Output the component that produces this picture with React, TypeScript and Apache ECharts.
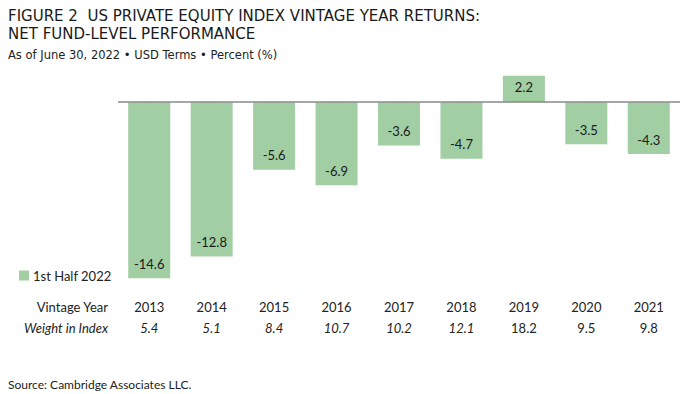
import React, { useEffect, useRef } from "react";
import * as echarts from "echarts";

const years = ["2013", "2014", "2015", "2016", "2017", "2018", "2019", "2020", "2021"];
const returns = [-14.6, -12.8, -5.6, -6.9, -3.6, -4.7, 2.2, -3.5, -4.3];
const weights = ["5.4", "5.1", "8.4", "10.7", "10.2", "12.1", "18.2", "9.5", "9.8"];
const weightItalic = [true, true, true, true, true, true, false, false, false];
const seriesName = "1st Half 2022";

const FONT = "Lato, 'Open Sans', sans-serif";
const TFONT = "'DejaVu Sans', sans-serif";
const BAR = "#a2cea4";

export default function App() {
  const ref = useRef<HTMLDivElement>(null);
  useEffect(() => {
    if (!ref.current) return;
    const chart = echarts.init(ref.current, null, { renderer: "svg" });
    chart.setOption({
      animation: false,
      textStyle: { fontFamily: FONT },
      title: [
        {
          text: "FIGURE 2  US PRIVATE EQUITY INDEX VINTAGE YEAR RETURNS:\nNET FUND-LEVEL PERFORMANCE",
          left: 8,
          top: 6.5,
          padding: 0,
          textStyle: { fontFamily: TFONT, fontSize: 15, fontWeight: "normal", color: "#1a1a1a", lineHeight: 18.5 },
        },
        {
          text: "As of June 30, 2022 • USD Terms • Percent (%)",
          left: 8,
          top: 48,
          padding: 0,
          textStyle: { fontFamily: TFONT, fontSize: 11.5, fontWeight: "normal", color: "#222", lineHeight: 14 },
        },
      ],
      legend: {
        left: 14,
        top: 264,
        itemWidth: 10,
        itemHeight: 10,
        itemGap: 4,
        icon: "rect",
        textStyle: { fontFamily: FONT, fontSize: 13, color: "#222", padding: [0, 0, 0, -1] },
        data: [seriesName],
      },
      grid: { left: 118, right: 13, top: 66, height: 217, containLabel: false },
      xAxis: {
        type: "category",
        data: years,
        axisLine: { show: false, onZero: false },
        axisTick: { show: false },
        axisLabel: {
          margin: 13,
          interval: 0,
          formatter: (v: string, i: number) =>
            `{y|${v}}\n{${weightItalic[i] ? "wi" : "wn"}|${weights[i]}}`,
          rich: {
            y: { fontFamily: FONT, fontSize: 13, color: "#222", lineHeight: 21 },
            wi: { fontFamily: FONT, fontSize: 13, color: "#222", lineHeight: 21, fontStyle: "italic" },
            wn: { fontFamily: FONT, fontSize: 13, color: "#222", lineHeight: 21 },
          },
        },
      },
      yAxis: {
        type: "value",
        min: -15,
        max: 3,
        show: false,
        splitLine: { show: false },
      },
      series: [
        {
          name: seriesName,
          type: "bar",
          barWidth: 42,
          itemStyle: { color: BAR },
          data: returns.map((v) => ({
            value: v,
            label: {
              show: true,
              position: v < 0 ? "insideBottom" : "insideTop",
              distance: v < 0 ? 8 : 5,
              fontFamily: FONT,
              fontSize: 13,
              color: "#1a1a1a",
              formatter: (p: any) => p.value.toFixed(1),
            },
          })),
          markLine: {
            silent: true,
            symbol: "none",
            label: { show: false },
            lineStyle: { color: "#8a8a8a", width: 1.5, type: "solid" },
            data: [{ yAxis: 0 }],
          },
        },
      ],
      graphic: [
        {
          type: "text",
          x: 108,
          y: 307,
          style: {
            text: "Vintage Year",
            align: "right",
            verticalAlign: "middle",
            fontFamily: FONT,
            fontSize: 13,
            fill: "#222",
          },
        },
        {
          type: "text",
          x: 108,
          y: 328,
          style: {
            text: "Weight in Index",
            align: "right",
            verticalAlign: "middle",
            fontFamily: FONT,
            fontSize: 13,
            fontStyle: "italic",
            fill: "#222",
          },
        },
        {
          type: "text",
          x: 8,
          y: 384,
          style: {
            text: "Source: Cambridge Associates LLC.",
            verticalAlign: "middle",
            fontFamily: FONT,
            fontSize: 12,
            fill: "#222",
          },
        },
      ],
    });
    return () => chart.dispose();
  }, []);
  return <div ref={ref} style={{ width: 693, height: 394, position: "absolute", left: 0, top: 0 }} />;
}
